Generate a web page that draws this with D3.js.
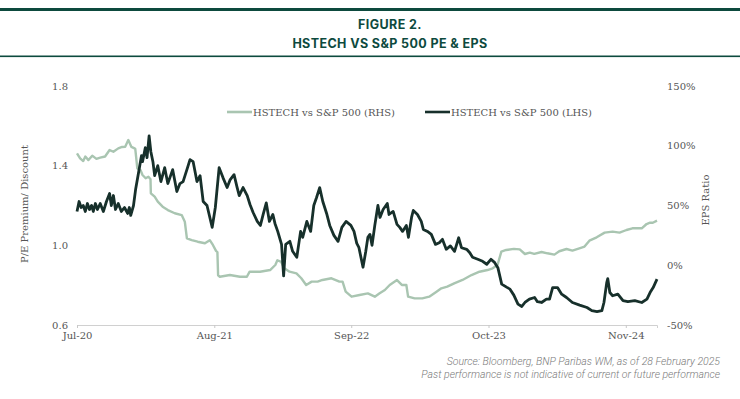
<!DOCTYPE html>
<html>
<head>
<meta charset="utf-8">
<script src="https://cdn.jsdelivr.net/npm/d3@7"></script>
<style>
  body { margin: 0; background: #fff; }
  svg { display: block; }
</style>
</head>
<body>
<svg></svg>
<script>
const width = 740;
const height = 399;

// P/E premium/discount, HSTECH vs S&P 500 (left axis)
const peDates = [
  "2020-07-31","2020-08-06","2020-08-12","2020-08-18","2020-08-24","2020-08-30","2020-09-05","2020-09-11",
  "2020-09-16","2020-09-22","2020-09-28","2020-10-06","2020-10-15","2020-10-24","2020-11-02","2020-11-07",
  "2020-11-13","2020-11-19","2020-11-27","2020-12-06","2020-12-15","2020-12-24","2020-12-29","2021-01-02",
  "2021-01-10","2021-01-16","2021-01-25","2021-02-02","2021-02-05","2021-02-13","2021-02-18","2021-02-24",
  "2021-03-01","2021-03-07","2021-03-12","2021-03-21","2021-03-30","2021-04-10","2021-04-19","2021-05-03",
  "2021-05-15","2021-05-24","2021-06-02","2021-06-13","2021-06-22","2021-07-01","2021-07-12","2021-07-21",
  "2021-07-30","2021-08-10","2021-08-25","2021-09-03","2021-09-14","2021-09-25","2021-10-07","2021-10-16",
  "2021-10-27","2021-11-05","2021-11-11","2021-11-22","2021-12-04","2021-12-12","2021-12-21","2022-01-02",
  "2022-01-11","2022-01-19","2022-01-28","2022-02-06","2022-02-16","2022-02-22","2022-03-02","2022-03-13",
  "2022-03-19","2022-03-25","2022-04-06","2022-04-14","2022-04-26","2022-05-07","2022-05-13","2022-05-25",
  "2022-06-05","2022-06-14","2022-06-22","2022-07-01","2022-07-10","2022-07-21","2022-07-30","2022-08-11",
  "2022-08-23","2022-09-03","2022-09-15","2022-09-29","2022-10-08","2022-10-16","2022-10-22","2022-11-03",
  "2022-11-11","2022-11-17","2022-11-23","2022-11-29","2022-12-07","2022-12-16","2022-12-22","2022-12-31",
  "2023-01-12","2023-01-17","2023-01-29","2023-02-09","2023-02-17","2023-02-25","2023-03-08","2023-03-14",
  "2023-03-23","2023-03-28","2023-04-09","2023-04-20","2023-04-26","2023-05-08","2023-05-19","2023-05-31",
  "2023-06-11","2023-06-20","2023-07-01","2023-07-13","2023-07-25","2023-08-06","2023-08-14","2023-08-29",
  "2023-09-07","2023-09-15","2023-09-30","2023-10-14","2023-10-26","2023-11-07","2023-11-18","2023-11-27",
  "2023-12-08","2023-12-22","2024-01-01","2024-01-12","2024-01-24","2024-02-04","2024-02-13","2024-02-26",
  "2024-03-12","2024-03-20","2024-04-01","2024-04-15","2024-04-24","2024-05-03","2024-05-17","2024-05-29",
  "2024-06-12","2024-06-29","2024-07-20","2024-08-10","2024-08-24","2024-09-08","2024-09-22","2024-09-28",
  "2024-10-06","2024-10-09","2024-10-15","2024-10-23","2024-11-07","2024-11-22","2024-12-06","2024-12-26",
  "2025-01-15","2025-01-30","2025-02-08","2025-02-17","2025-02-28"
];
const peValues = [
  1.17, 1.22, 1.19, 1.20, 1.17, 1.21, 1.18, 1.20,
  1.17, 1.21, 1.18, 1.21, 1.17, 1.22, 1.26, 1.20,
  1.25, 1.18, 1.21, 1.17, 1.19, 1.16, 1.19, 1.15,
  1.20, 1.28, 1.37, 1.45, 1.42, 1.49, 1.44, 1.55,
  1.47, 1.42, 1.35, 1.40, 1.32, 1.39, 1.31, 1.38,
  1.27, 1.31, 1.32, 1.38, 1.43, 1.42, 1.32, 1.35,
  1.22, 1.20, 1.09, 1.19, 1.39, 1.34, 1.29, 1.33,
  1.355, 1.29, 1.25, 1.29, 1.25, 1.205, 1.165, 1.12,
  1.10, 1.155, 1.213, 1.12, 1.155, 1.11, 1.07, 1.005,
  0.847, 1.005, 1.02, 0.97, 0.94, 1.07, 1.04, 1.12,
  1.07, 1.20, 1.24, 1.29, 1.22, 1.16, 1.10, 1.05,
  1.02, 1.09, 1.12, 1.10, 1.07, 1.01, 0.99, 0.89,
  0.97, 1.04, 1.055, 1.00, 1.10, 1.20, 1.14, 1.18,
  1.21, 1.155, 1.17, 1.105, 1.09, 1.07, 1.10, 1.04,
  1.14, 1.175, 1.155, 1.12, 1.08, 1.07, 1.055, 1.005,
  1.013, 1.03, 0.98, 0.997, 0.97, 1.038, 0.988, 0.98,
  0.963, 0.94, 0.93, 0.92, 0.905, 0.93, 0.913, 0.888,
  0.805, 0.79, 0.78, 0.75, 0.705, 0.693, 0.713, 0.73,
  0.738, 0.717, 0.713, 0.73, 0.73, 0.788, 0.788, 0.755,
  0.738, 0.713, 0.70, 0.688, 0.672, 0.667, 0.672, 0.713,
  0.813, 0.833, 0.763, 0.747, 0.755, 0.722, 0.717, 0.722,
  0.713, 0.73, 0.763, 0.788, 0.83
];

// EPS ratio, HSTECH vs S&P 500, in % (right axis)
const epsDates = [
  "2020-07-31","2020-08-09","2020-08-18","2020-08-24","2020-09-02","2020-09-13","2020-09-25","2020-10-06",
  "2020-10-20","2020-11-02","2020-11-13","2020-11-27","2020-12-08","2020-12-17","2020-12-26","2021-01-04",
  "2021-01-13","2021-01-15","2021-01-21","2021-01-30","2021-02-05","2021-02-14","2021-02-22","2021-02-28",
  "2021-03-01","2021-03-12","2021-03-21","2021-04-04","2021-04-19","2021-05-09","2021-05-29","2021-06-07",
  "2021-06-13","2021-06-27","2021-07-14","2021-08-04","2021-08-18","2021-08-27","2021-09-05","2021-09-09",
  "2021-09-11","2021-09-16","2021-10-15","2021-11-13","2021-12-03","2021-12-11","2022-01-10","2022-02-08",
  "2022-02-23","2022-03-01","2022-03-12","2022-03-21","2022-04-05","2022-04-25","2022-05-09","2022-05-23",
  "2022-06-08","2022-06-25","2022-07-09","2022-08-04","2022-08-27","2022-09-05","2022-09-14","2022-10-01",
  "2022-10-24","2022-11-17","2022-12-07","2022-12-21","2023-01-05","2023-01-19","2023-02-09","2023-02-23",
  "2023-03-08","2023-03-13","2023-04-01","2023-04-23","2023-05-13","2023-06-03","2023-06-17","2023-07-04",
  "2023-07-24","2023-08-17","2023-09-12","2023-10-05","2023-10-28","2023-11-12","2023-11-26","2023-12-07",
  "2023-12-21","2024-01-12","2024-01-29","2024-02-13","2024-02-27","2024-03-11","2024-04-01","2024-04-18",
  "2024-05-08","2024-05-22","2024-06-12","2024-06-29","2024-07-19","2024-08-03","2024-08-17","2024-09-07",
  "2024-09-30","2024-10-23","2024-11-12","2024-12-02","2024-12-19","2025-01-15","2025-01-29","2025-02-08",
  "2025-02-16","2025-02-28"
];
const epsValues = [
  93.7, 89.5, 87.2, 91, 88, 91.7, 89, 90,
  91, 96.4, 95, 97.8, 99, 99.2, 104.8, 99,
  97.8, 97.5, 81.1, 79.7, 75.5, 72.8, 74.1, 72,
  60.2, 57.4, 53.2, 49, 46.2, 43.5, 42, 36.4,
  22.5, 21.1, 19.7, 18.4, 21, 17, 12, 11,
  -8.4, -9.6, -8.2, -9.6, -9.6, -5.4, -5.4, -4,
  0.2, 4.2, 2.8, -2.6, -5.4, -6.8, -10.9, -16.5,
  -13.7, -13.7, -12.3, -10.9, -13.7, -13.7, -22.1, -26.3,
  -24.9, -23.5, -26.3, -23.5, -20.7, -16.5, -12.4, -16.5,
  -16.5, -26.3, -27.7, -27.7, -26.3, -22.1, -19.3, -17.9,
  -15.1, -12.3, -8.2, -5.4, -4, -2.6, 0.2, 11.4,
  12.8, 13.7, 13.3, 9.4, 10.6, 9.5, 11.1, 10,
  8.9, 11.7, 13.6, 12.3, 14.2, 15.6, 20.6, 23.4,
  27.3, 28.1, 27.3, 29.5, 30.9, 30.9, 34.5, 35.6,
  35.6, 37.3
];

const xTickDates = ["2020-07-31", "2021-08-31", "2022-09-30", "2023-10-31", "2024-11-30"];
const xTickLabels = ["Jul-20", "Aug-21", "Sep-22", "Oct-23", "Nov-24"];
const leftTicks = [0.6, 1.0, 1.4, 1.8];
const rightTicks = [-50, 0, 50, 100, 150];

const parse = d3.timeParse("%Y-%m-%d");
const pe = peDates.map((d, i) => ({ date: parse(d), value: peValues[i] }));
const eps = epsDates.map((d, i) => ({ date: parse(d), value: epsValues[i] }));

const dark = "#17302b";
const light = "#a9c5b1";
const brand = "#0d4a3e";
const serif = "'DejaVu Serif', serif";

const svg = d3.select("svg")
    .attr("width", width)
    .attr("height", height);

// header rules and title
svg.append("rect").attr("x", 0).attr("y", 8).attr("width", width).attr("height", 3).attr("fill", brand);
svg.append("rect").attr("x", 0).attr("y", 55.5).attr("width", width).attr("height", 1.6).attr("fill", brand);

const title = svg.append("text")
    .attr("text-anchor", "middle")
    .attr("fill", brand)
    .style("font-family", "Inter, sans-serif")
    .style("font-weight", 700)
    .style("font-size", "12.5px")
    .style("letter-spacing", "0.4px");
title.append("tspan").attr("x", 390).attr("y", 29).text("FIGURE 2.");
title.append("tspan").attr("x", 390).attr("y", 48).text("HSTECH VS S&P 500 PE & EPS");

const x = d3.scaleTime()
    .domain([parse("2020-07-31"), parse("2025-02-28")])
    .range([77, 657]);
const yLeft = d3.scaleLinear().domain([0.6, 1.8]).range([325, 86]);
const yRight = d3.scaleLinear().domain([-50, 150]).range([325, 86]);

// x axis
const xAxis = svg.append("g")
    .attr("transform", "translate(0,325)")
    .call(d3.axisBottom(x)
        .tickValues(xTickDates.map(parse))
        .tickFormat((d, i) => xTickLabels[i])
        .tickSize(3)
        .tickPadding(4));
xAxis.select(".domain").attr("stroke", "#d0d0d0");
xAxis.selectAll(".tick line").attr("stroke", "#c8c8c8");
xAxis.selectAll("text")
    .attr("fill", "#555")
    .style("font-family", serif)
    .style("font-size", "10px");

// left axis
const leftAxis = svg.append("g")
    .attr("transform", "translate(77,0)")
    .call(d3.axisLeft(yLeft).tickValues(leftTicks).tickFormat(d3.format(".1f")).tickSize(0).tickPadding(9));
leftAxis.select(".domain").remove();
leftAxis.selectAll("text")
    .attr("fill", "#555")
    .style("font-family", serif)
    .style("font-size", "10px");

// right axis
const rightAxis = svg.append("g")
    .attr("transform", "translate(657,0)")
    .call(d3.axisRight(yRight).tickValues(rightTicks).tickFormat(d => d + "%").tickSize(0).tickPadding(10));
rightAxis.select(".domain").remove();
rightAxis.selectAll("text")
    .attr("fill", "#555")
    .style("font-family", serif)
    .style("font-size", "10px");

// axis titles
svg.append("text")
    .attr("transform", "translate(28,204) rotate(-90)")
    .attr("text-anchor", "middle")
    .attr("fill", "#555")
    .style("font-family", serif)
    .style("font-size", "10px")
    .text("P/E Premium/ Discount");
svg.append("text")
    .attr("transform", "translate(709,200) rotate(-90)")
    .attr("text-anchor", "middle")
    .attr("fill", "#555")
    .style("font-family", serif)
    .style("font-size", "10px")
    .text("EPS Ratio");

// lines
const epsLine = d3.line().x(d => x(d.date)).y(d => yRight(d.value));
const peLine = d3.line().x(d => x(d.date)).y(d => yLeft(d.value));

svg.append("path")
    .datum(eps)
    .attr("fill", "none")
    .attr("stroke", light)
    .attr("stroke-width", 2.4)
    .attr("stroke-linejoin", "round")
    .attr("d", epsLine);

svg.append("path")
    .datum(pe)
    .attr("fill", "none")
    .attr("stroke", dark)
    .attr("stroke-width", 2.8)
    .attr("stroke-linejoin", "round")
    .attr("d", peLine);

// legend
const legendItems = [
  { label: "HSTECH vs S&P 500 (RHS)", color: light, x: 227 },
  { label: "HSTECH vs S&P 500 (LHS)", color: dark, x: 425 }
];
const legend = svg.append("g").attr("transform", "translate(0,112)");
legend.selectAll("line")
    .data(legendItems)
    .enter()
    .append("line")
    .attr("x1", d => d.x)
    .attr("x2", d => d.x + 25)
    .attr("stroke", d => d.color)
    .attr("stroke-width", 2.6);
legend.selectAll("text")
    .data(legendItems)
    .enter()
    .append("text")
    .attr("x", d => d.x + 26)
    .attr("y", 3.5)
    .attr("fill", "#555")
    .style("font-family", serif)
    .style("font-size", "10px")
    .text(d => d.label);

// source note
const note = svg.append("text")
    .attr("text-anchor", "end")
    .attr("fill", "#7a7a7a")
    .style("font-family", "Roboto, sans-serif")
    .style("font-style", "italic")
    .style("font-weight", 300)
    .style("font-size", "10.5px");
note.append("tspan").attr("x", 720).attr("y", 365).text("Source: Bloomberg, BNP Paribas WM, as of 28 February 2025");
note.append("tspan").attr("x", 720).attr("y", 377.5).text("Past performance is not indicative of current or future performance");
</script>
</body>
</html>
